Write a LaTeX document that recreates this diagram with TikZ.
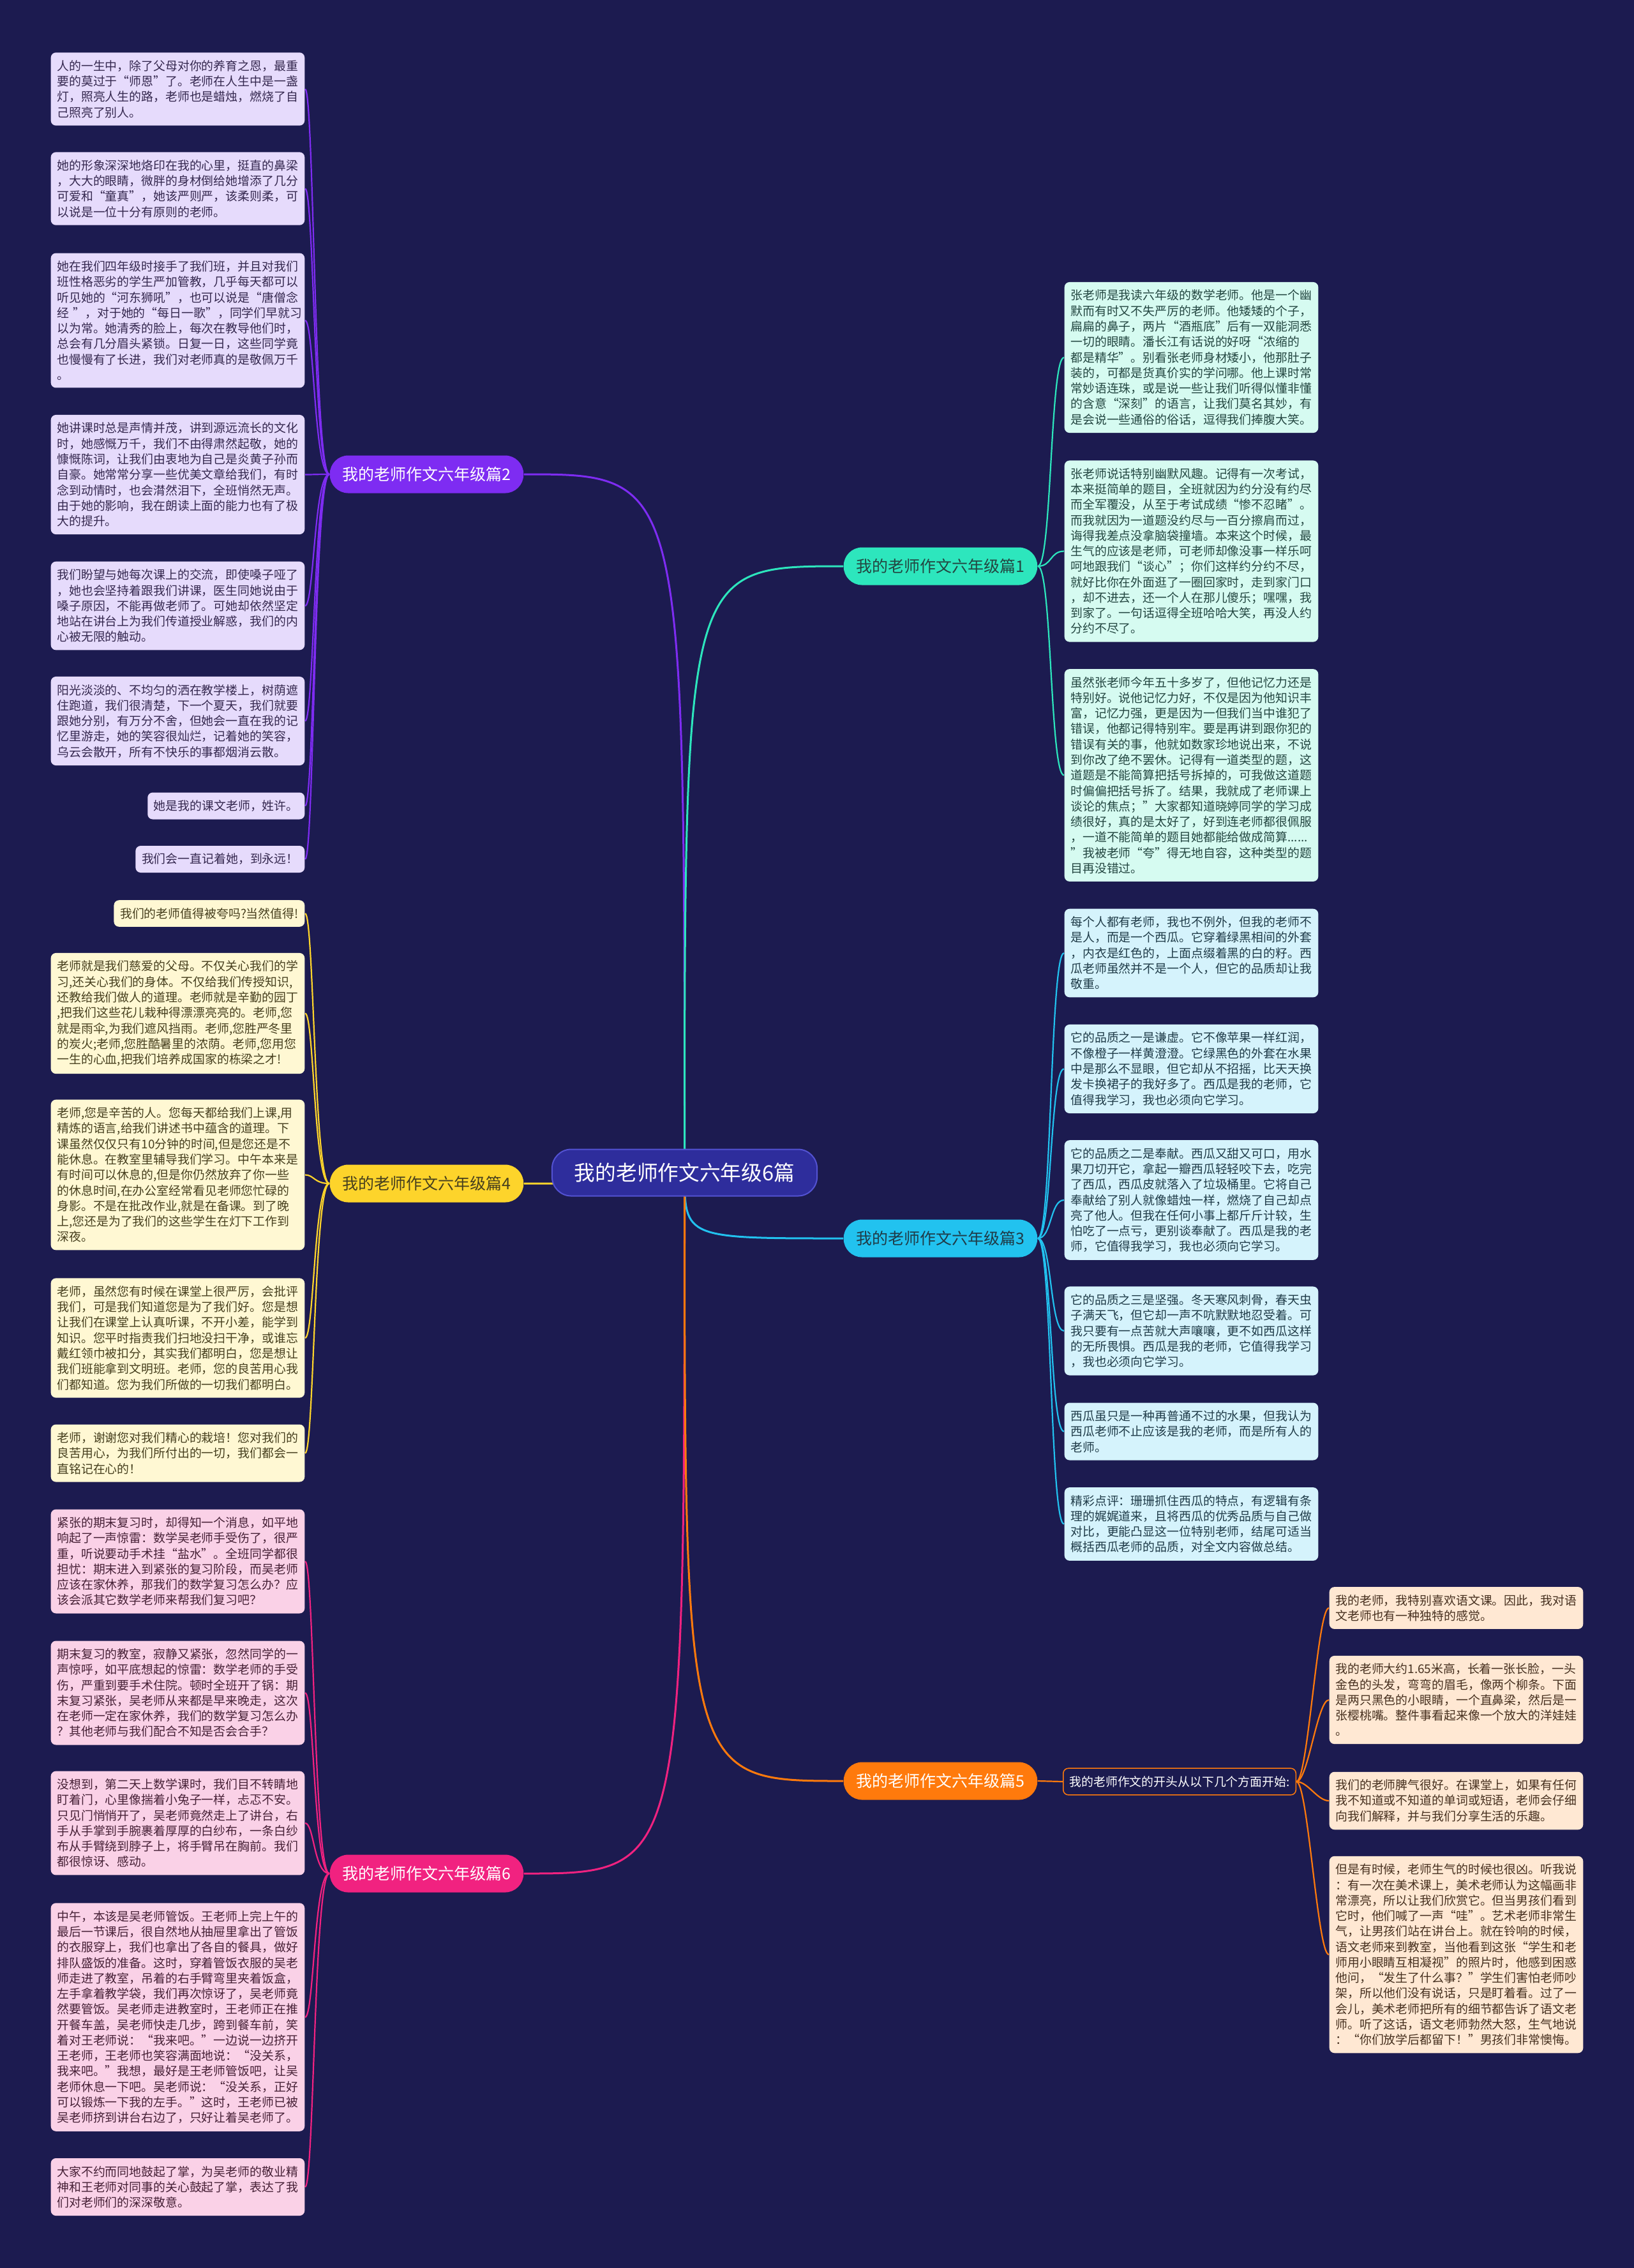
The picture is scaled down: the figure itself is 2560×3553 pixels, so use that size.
\documentclass[tikz,border=0pt]{standalone}
\usepackage{fontspec}
\setmainfont{Noto Sans CJK SC}
\usetikzlibrary{backgrounds}
\definecolor{bgC}{HTML}{1C1B50}
\definecolor{rootF}{HTML}{2E2D9C}
\definecolor{rootD}{HTML}{5352D2}
\definecolor{purD}{HTML}{7E2CF2}
\definecolor{purF}{HTML}{E6DBFC}
\definecolor{purT}{HTML}{35284F}
\definecolor{grnD}{HTML}{2DE6BD}
\definecolor{grnF}{HTML}{D6FBF1}
\definecolor{grnT}{HTML}{234641}
\definecolor{yelD}{HTML}{FDD42B}
\definecolor{yelF}{HTML}{FFF8D3}
\definecolor{yelT}{HTML}{463F1E}
\definecolor{cyaD}{HTML}{22C2EF}
\definecolor{cyaF}{HTML}{D5F3FC}
\definecolor{cyaT}{HTML}{1F3B48}
\definecolor{orgD}{HTML}{FF7A0C}
\definecolor{orgF}{HTML}{FFE8D3}
\definecolor{orgT}{HTML}{46301F}
\definecolor{pnkD}{HTML}{F12280}
\definecolor{pnkF}{HTML}{FAD1E7}
\definecolor{pnkT}{HTML}{462036}
\newcommand\leaffont{\fontsize{5.37pt}{6.9pt}\selectfont}
\newcommand\brfont{\fontsize{7.1pt}{8pt}\selectfont}
\newcommand\rootfont{\fontsize{9.3pt}{10pt}\selectfont}
\tikzset{
  tag/.style={rounded corners=0.08cm, inner xsep=0.097cm, inner ysep=0.12cm, font=\leaffont},
  leaf/.style={tag, align=left, text width=3.78cm},
  leafP/.style={leaf, fill=purF, text=purT},
  leafG/.style={leaf, fill=grnF, text=grnT},
  leafY/.style={leaf, fill=yelF, text=yelT},
  leafC/.style={leaf, fill=cyaF, text=cyaT},
  leafO/.style={leaf, fill=orgF, text=orgT},
  leafK/.style={leaf, fill=pnkF, text=pnkT},
  br/.style={rounded corners=0.29cm, minimum height=0.59cm, inner xsep=0.2cm, font=\brfont},
  trunk/.style={line width=0.03cm},
  twig/.style={line width=0.022cm},
}
\begin{document}
\begin{tikzpicture}[x=0.01cm, y=-0.01cm]
\useasboundingbox (0,0) rectangle (2560,3553);
\node[draw=rootD, fill=rootF, text=white, line width=0.02cm, rounded corners=0.3cm, minimum height=0.73cm, inner xsep=0.35cm, font=\rootfont] (root) at (1072.5,1837) {我的老师作文六年级6篇};
\node[br, fill=purD, text=white, anchor=west] (b2) at (516,743) {我的老师作文六年级篇2};
\node[br, fill=yelD, text=yelT, anchor=west] (b4) at (516,1854) {我的老师作文六年级篇4};
\node[br, fill=pnkD, text=white, anchor=west] (b6) at (516,2935) {我的老师作文六年级篇6};
\node[br, fill=grnD, text=grnT, anchor=west] (b1) at (1321,887) {我的老师作文六年级篇1};
\node[br, fill=cyaD, text=cyaT, anchor=west] (b3) at (1321,1940) {我的老师作文六年级篇3};
\node[br, fill=orgD, text=white, anchor=west] (b5) at (1321,2790) {我的老师作文六年级篇5};
\node[tag, draw=orgD, line width=0.015cm, fill=bgC, text=white, anchor=west] (s5) at (1665,2791) {我的老师作文的开头从以下几个方面开始:};
% 篇2
\node[leafP, anchor=east] (b2a) at (478,139.5) {人的一生中，除了父母对你的养育之恩，最重\\要的莫过于“师恩”了。老师在人生中是一盏\\灯，照亮人生的路，老师也是蜡烛，燃烧了自\\己照亮了别人。};
\node[leafP, anchor=east] (b2b) at (478,295.5) {她的形象深深地烙印在我的心里，挺直的鼻梁\\，大大的眼睛，微胖的身材倒给她增添了几分\\可爱和“童真”，她该严则严，该柔则柔，可\\以说是一位十分有原则的老师。};
\node[leafP, anchor=east] (b2c) at (478,502) {她在我们四年级时接手了我们班，并且对我们\\班性格恶劣的学生严加管教，几乎每天都可以\\听见她的“河东狮吼”，也可以说是“唐僧念\\经~”，对于她的“每日一歌”，同学们早就习\\以为常。她清秀的脸上，每次在教导他们时，\\总会有几分眉头紧锁。日复一日，这些同学竟\\也慢慢有了长进，我们对老师真的是敬佩万千\\。};
\node[leafP, anchor=east] (b2d) at (478,743.5) {她讲课时总是声情并茂，讲到源远流长的文化\\时，她感慨万千，我们不由得肃然起敬，她的\\慷慨陈词，让我们由衷地为自己是炎黄子孙而\\自豪。她常常分享一些优美文章给我们，有时\\念到动情时，也会潸然泪下，全班悄然无声。\\由于她的影响，我在朗读上面的能力也有了极\\大的提升。};
\node[leafP, anchor=east] (b2e) at (478,949) {我们盼望与她每次课上的交流，即使嗓子哑了\\，她也会坚持着跟我们讲课，医生同她说由于\\嗓子原因，不能再做老师了。可她却依然坚定\\地站在讲台上为我们传道授业解惑，我们的内\\心被无限的触动。};
\node[leafP, anchor=east] (b2f) at (478,1129.5) {阳光淡淡的、不均匀的洒在教学楼上，树荫遮\\住跑道，我们很清楚，下一个夏天，我们就要\\跟她分别，有万分不舍，但她会一直在我的记\\忆里游走，她的笑容很灿烂，记着她的笑容，\\乌云会散开，所有不快乐的事都烟消云散。};
\node[tag, fill=purF, text=purT, anchor=east] (b2g) at (478,1262.5) {她是我的课文老师，姓许。};
\node[tag, fill=purF, text=purT, anchor=east] (b2h) at (478,1346) {我们会一直记着她，到永远！};
% 篇4
\node[tag, fill=yelF, text=yelT, anchor=east] (b4a) at (478,1431) {我们的老师值得被夸吗?当然值得!};
\node[leafY, anchor=east] (b4b) at (478,1587.5) {老师就是我们慈爱的父母。不仅关心我们的学\\习,还关心我们的身体。不仅给我们传授知识,\\还教给我们做人的道理。老师就是辛勤的园丁\\,把我们这些花儿栽种得漂漂亮亮的。老师,您\\就是雨伞,为我们遮风挡雨。老师,您胜严冬里\\的炭火;老师,您胜酷暑里的浓荫。老师,您用您\\一生的心血,把我们培养成国家的栋梁之才!};
\node[leafY, anchor=east] (b4c) at (478,1840.5) {老师,您是辛苦的人。您每天都给我们上课,用\\精炼的语言,给我们讲述书中蕴含的道理。下\\课虽然仅仅只有10分钟的时间,但是您还是不\\能休息。在教室里辅导我们学习。中午本来是\\有时间可以休息的,但是你仍然放弃了你一些\\的休息时间,在办公室经常看见老师您忙碌的\\身影。不是在批改作业,就是在备课。到了晚\\上,您还是为了我们的这些学生在灯下工作到\\深夜。};
\node[leafY, anchor=east] (b4d) at (478,2096) {老师，虽然您有时候在课堂上很严厉，会批评\\我们，可是我们知道您是为了我们好。您是想\\让我们在课堂上认真听课，不开小差，能学到\\知识。您平时指责我们扫地没扫干净，或谁忘\\戴红领巾被扣分，其实我们都明白，您是想让\\我们班能拿到文明班。老师，您的良苦用心我\\们都知道。您为我们所做的一切我们都明白。};
\node[leafY, anchor=east] (b4e) at (478,2276.5) {老师，谢谢您对我们精心的栽培！您对我们的\\良苦用心，为我们所付出的一切，我们都会一\\直铭记在心的！};
% 篇6
\node[leafK, anchor=east] (b6a) at (478,2446) {紧张的期末复习时，却得知一个消息，如平地\\响起了一声惊雷：数学吴老师手受伤了，很严\\重，听说要动手术挂“盐水”。全班同学都很\\担忧：期末进入到紧张的复习阶段，而吴老师\\应该在家休养，那我们的数学复习怎么办？应\\该会派其它数学老师来帮我们复习吧？};
\node[leafK, anchor=east] (b6b) at (478,2652) {期末复习的教室，寂静又紧张，忽然同学的一\\声惊呼，如平底想起的惊雷：数学老师的手受\\伤，严重到要手术住院。顿时全班开了锅：期\\末复习紧张，吴老师从来都是早来晚走，这次\\在老师一定在家休养，我们的数学复习怎么办\\？其他老师与我们配合不知是否会合手？};
\node[leafK, anchor=east] (b6c) at (478,2856) {没想到，第二天上数学课时，我们目不转睛地\\盯着门，心里像揣着小兔子一样，忐忑不安。\\只见门悄悄开了，吴老师竟然走上了讲台，右\\手从手掌到手腕裹着厚厚的白纱布，一条白纱\\布从手臂绕到脖子上，将手臂吊在胸前。我们\\都很惊讶、感动。};
\node[leafK, anchor=east] (b6d) at (478,3160) {中午，本该是吴老师管饭。王老师上完上午的\\最后一节课后，很自然地从抽屉里拿出了管饭\\的衣服穿上，我们也拿出了各自的餐具，做好\\排队盛饭的准备。这时，穿着管饭衣服的吴老\\师走进了教室，吊着的右手臂弯里夹着饭盒，\\左手拿着教学袋，我们再次惊讶了，吴老师竟\\然要管饭。吴老师走进教室时，王老师正在推\\开餐车盖，吴老师快走几步，跨到餐车前，笑\\着对王老师说：“我来吧。”一边说一边挤开\\王老师，王老师也笑容满面地说：“没关系，\\我来吧。”我想，最好是王老师管饭吧，让吴\\老师休息一下吧。吴老师说：“没关系，正好\\可以锻炼一下我的左手。”这时，王老师已被\\吴老师挤到讲台右边了，只好让着吴老师了。};
\node[leafK, anchor=east] (b6e) at (478,3426) {大家不约而同地鼓起了掌，为吴老师的敬业精\\神和王老师对同事的关心鼓起了掌，表达了我\\们对老师们的深深敬意。};
% 篇1
\node[leafG, anchor=west] (b1a) at (1667,560) {张老师是我读六年级的数学老师。他是一个幽\\默而有时又不失严厉的老师。他矮矮的个子，\\扁扁的鼻子，两片“酒瓶底”后有一双能洞悉\\一切的眼睛。潘长江有话说的好呀“浓缩的\\都是精华”。别看张老师身材矮小，他那肚子\\装的，可都是货真价实的学问哪。他上课时常\\常妙语连珠，或是说一些让我们听得似懂非懂\\的含意“深刻”的语言，让我们莫名其妙，有\\是会说一些通俗的俗话，逗得我们捧腹大笑。};
\node[leafG, anchor=west] (b1b) at (1667,863.5) {张老师说话特别幽默风趣。记得有一次考试，\\本来挺简单的题目，全班就因为约分没有约尽\\而全军覆没，从至于考试成绩“惨不忍睹”。\\而我就因为一道题没约尽与一百分擦肩而过，\\诲得我差点没拿脑袋撞墙。本来这个时候，最\\生气的应该是老师，可老师却像没事一样乐呵\\呵地跟我们“谈心”；你们这样约分约不尽，\\就好比你在外面逛了一圈回家时，走到家门口\\，却不进去，还一个人在那儿傻乐；嘿嘿，我\\到家了。一句话逗得全班哈哈大笑，再没人约\\分约不尽了。};
\node[leafG, anchor=west] (b1c) at (1667,1214.5) {虽然张老师今年五十多岁了，但他记忆力还是\\特别好。说他记忆力好，不仅是因为他知识丰\\富，记忆力强，更是因为一但我们当中谁犯了\\错误，他都记得特别牢。要是再讲到跟你犯的\\错误有关的事，他就如数家珍地说出来，不说\\到你改了绝不罢休。记得有一道类型的题，这\\道题是不能简算把括号拆掉的，可我做这道题\\时偏偏把括号拆了。结果，我就成了老师课上\\谈论的焦点；"大家都知道晓婷同学的学习成\\绩很好，真的是太好了，好到连老师都很佩服\\，一道不能简单的题目她都能给做成简算......\\”我被老师“夸”得无地自容，这种类型的题\\目再没错过。};
% 篇3
\node[leafC, anchor=west] (b3a) at (1667,1493) {每个人都有老师，我也不例外，但我的老师不\\是人，而是一个西瓜。它穿着绿黑相间的外套\\，内衣是红色的，上面点缀着黑的白的籽。西\\瓜老师虽然并不是一个人，但它的品质却让我\\敬重。};
\node[leafC, anchor=west] (b3b) at (1667,1674.5) {它的品质之一是谦虚。它不像苹果一样红润，\\不像橙子一样黄澄澄。它绿黑色的外套在水果\\中是那么不显眼，但它却从不招摇，比天天换\\发卡换裙子的我好多了。西瓜是我的老师，它\\值得我学习，我也必须向它学习。};
\node[leafC, anchor=west] (b3c) at (1667,1880) {它的品质之二是奉献。西瓜又甜又可口，用水\\果刀切开它，拿起一瓣西瓜轻轻咬下去，吃完\\了西瓜，西瓜皮就落入了垃圾桶里。它将自己\\奉献给了别人就像蜡烛一样，燃烧了自己却点\\亮了他人。但我在任何小事上都斤斤计较，生\\怕吃了一点亏，更别谈奉献了。西瓜是我的老\\师，它值得我学习，我也必须向它学习。};
\node[leafC, anchor=west] (b3d) at (1667,2085) {它的品质之三是坚强。冬天寒风刺骨，春天虫\\子满天飞，但它却一声不吭默默地忍受着。可\\我只要有一点苦就大声嚷嚷，更不如西瓜这样\\的无所畏惧。西瓜是我的老师，它值得我学习\\，我也必须向它学习。};
\node[leafC, anchor=west] (b3e) at (1667,2242.5) {西瓜虽只是一种再普通不过的水果，但我认为\\西瓜老师不止应该是我的老师，而是所有人的\\老师。};
\node[leafC, anchor=west] (b3f) at (1667,2387.5) {精彩点评：珊珊抓住西瓜的特点，有逻辑有条\\理的娓娓道来，且将西瓜的优秀品质与自己做\\对比，更能凸显这一位特别老师，结尾可适当\\概括西瓜老师的品质，对全文内容做总结。};
% 篇5
\node[leafO, anchor=west] (b5a) at (2082,2519) {我的老师，我特别喜欢语文课。因此，我对语\\文老师也有一种独特的感觉。};
\node[leafO, anchor=west] (b5b) at (2082,2663) {我的老师大约1.65米高，长着一张长脸，一头\\金色的头发，弯弯的眉毛，像两个柳条。下面\\是两只黑色的小眼睛，一个直鼻梁，然后是一\\张樱桃嘴。整件事看起来像一个放大的洋娃娃\\。};
\node[leafO, anchor=west] (b5c) at (2082,2821) {我们的老师脾气很好。在课堂上，如果有任何\\我不知道或不知道的单词或短语，老师会仔细\\向我们解释，并与我们分享生活的乐趣。};
\node[leafO, anchor=west] (b5d) at (2082,3062) {但是有时候，老师生气的时候也很凶。听我说\\：有一次在美术课上，美术老师认为这幅画非\\常漂亮，所以让我们欣赏它。但当男孩们看到\\它时，他们喊了一声“哇”。艺术老师非常生\\气，让男孩们站在讲台上。就在铃响的时候，\\语文老师来到教室，当他看到这张“学生和老\\师用小眼睛互相凝视”的照片时，他感到困惑\\他问，“发生了什么事？”学生们害怕老师吵\\架，所以他们没有说话，只是盯着看。过了一\\会儿，美术老师把所有的细节都告诉了语文老\\师。听了这话，语文老师勃然大怒，生气地说\\：“你们放学后都留下！”男孩们非常懊悔。};
\begin{scope}[on background layer]
\fill[bgC] (0,0) rectangle (2560,3553);
\draw[trunk, purD] (root.center) .. controls (root.center |- b2.east) .. (b2.east);
\draw[trunk, yelD] (root.center) .. controls (root.center |- b4.east) .. (b4.east);
\draw[trunk, pnkD] (root.center) .. controls (root.center |- b6.east) .. (b6.east);
\draw[trunk, grnD] (root.center) .. controls (root.center |- b1.west) .. (b1.west);
\draw[trunk, cyaD] (root.center) .. controls (root.center |- b3.west) .. (b3.west);
\draw[trunk, orgD] (root.center) .. controls (root.center |- b5.west) .. (b5.west);
\foreach \n in {a,...,h} \draw[twig, purD] (b2.west) .. controls +(-24,0) and +(14,0) .. (b2\n.east);
\foreach \n in {a,...,e} \draw[twig, yelD] (b4.west) .. controls +(-24,0) and +(14,0) .. (b4\n.east);
\foreach \n in {a,...,e} \draw[twig, pnkD] (b6.west) .. controls +(-24,0) and +(14,0) .. (b6\n.east);
\foreach \n in {a,...,c} \draw[twig, grnD] (b1.east) .. controls +(22,0) and +(-22,0) .. (b1\n.west);
\foreach \n in {a,...,f} \draw[twig, cyaD] (b3.east) .. controls +(22,0) and +(-22,0) .. (b3\n.west);
\draw[twig, orgD] (b5.east) -- (s5.west);
\foreach \n in {a,...,d} \draw[twig, orgD] (s5.east) .. controls +(18,0) and +(-18,0) .. (b5\n.west);
\end{scope}
\end{tikzpicture}
\end{document}
